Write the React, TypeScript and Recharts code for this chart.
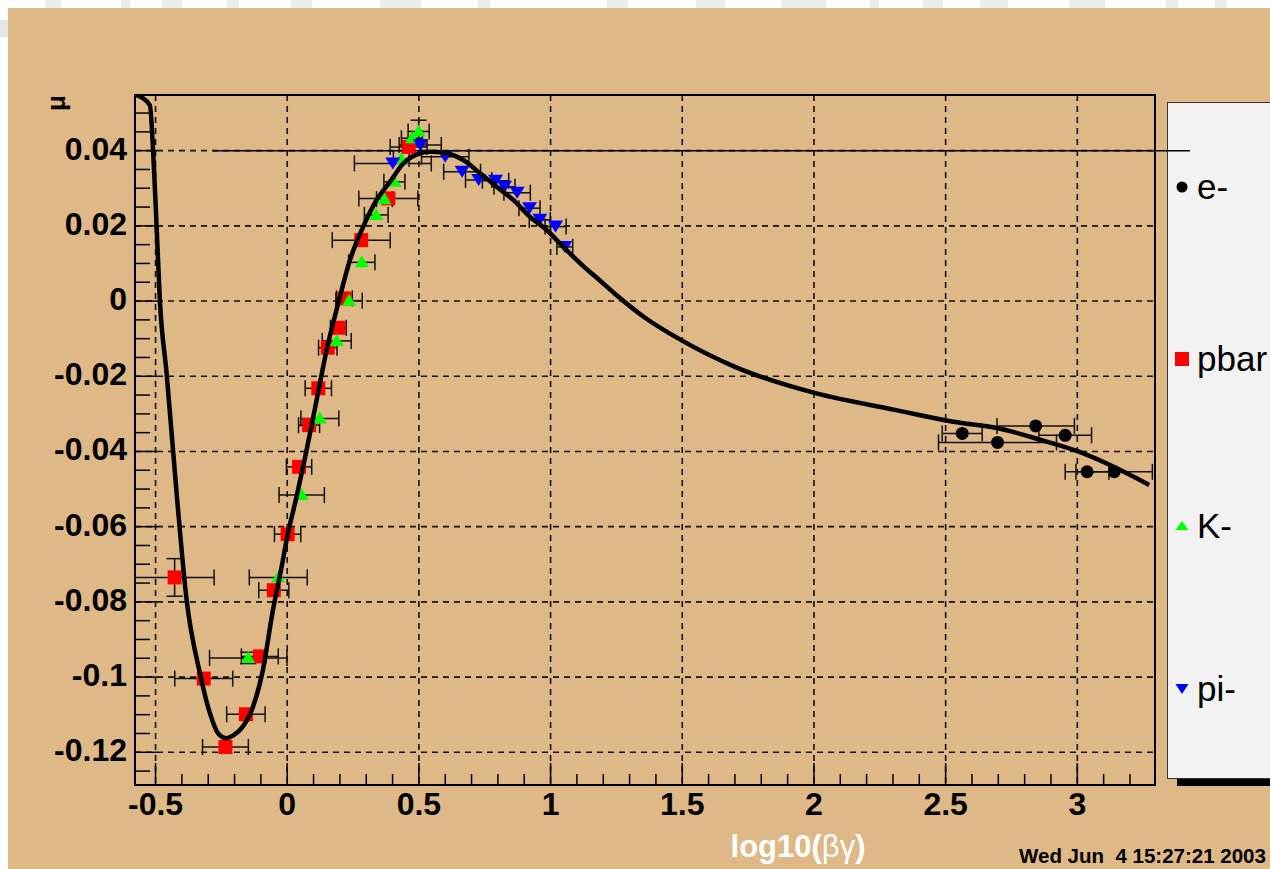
import React from 'react';
import {
  ScatterChart,
  Scatter,
  XAxis,
  YAxis,
  ErrorBar,
  ReferenceLine,
  ReferenceArea,
  CartesianGrid,
  Label,
} from 'recharts';

const FONT = '"Liberation Sans", Arial, Helvetica, sans-serif';
const TAN = '#deb887';

// ---------- axes ----------
const X_DOMAIN: [number, number] = [-0.578, 3.295];
const Y_DOMAIN: [number, number] = [-0.1287, 0.0548];
const X_MAJOR = [-0.5, 0, 0.5, 1, 1.5, 2, 2.5, 3];
const X_MAJOR_LABELS = ['-0.5', '0', '0.5', '1', '1.5', '2', '2.5', '3'];
const Y_MAJOR = [-0.12, -0.1, -0.08, -0.06, -0.04, -0.02, 0, 0.02, 0.04];
const Y_MAJOR_LABELS = ['-0.12', '-0.1', '-0.08', '-0.06', '-0.04', '-0.02', '0', '0.02', '0.04'];
const X_MINOR_STEP = 0.1;
const Y_MINOR_STEP = 0.005;
const X_TITLE = 'log10(';
const X_TITLE_GREEK = 'βγ';
const Y_TITLE = 'μ';
const DATE_TEXT = 'Wed Jun  4 15:27:21 2003';
const LINE_0_04: [number, number, number] = [-0.282, 3.428, 0.04]; // x from, x to, y

// ---------- fitted curve ----------
const curveX = [
  -0.5746, -0.5215, -0.509, -0.496, -0.4835, -0.458, -0.4178, -0.382, -0.3316, -0.2936,
  -0.262, -0.23, -0.205, -0.1796, -0.13, -0.0923, -0.0543, -0.0213, 0, 0.0357, 0.0737,
  0.1117, 0.1496, 0.1937, 0.2381, 0.2886, 0.3395, 0.39, 0.4406, 0.504, 0.542, 0.6054,
  0.6684, 0.7319, 0.7953, 0.8583, 0.9218, 0.9852, 1.0482, 1.124, 1.1786, 1.2484, 1.36, 1.496,
  1.7, 2.006, 2.312, 2.53, 2.704, 2.865, 2.995, 3.112, 3.273,
];
const curveY = [
  0.0548, 0.0521, 0.0397, 0.0199, 0.0001, -0.0192, -0.0529, -0.0795, -0.0989, -0.1096,
  -0.115, -0.1163, -0.1155, -0.1141, -0.1079, -0.0981, -0.0822, -0.0707, -0.0627, -0.052,
  -0.0396, -0.0263, -0.013, -0.0006, 0.0109, 0.0198, 0.0269, 0.0317, 0.0366, 0.0393,
  0.0397, 0.0393, 0.0375, 0.034, 0.0304, 0.0269, 0.0224, 0.0189, 0.0144, 0.0093, 0.006, 0.0017,
  -0.0045, -0.0104, -0.0175, -0.0245, -0.029, -0.0321, -0.0339, -0.037, -0.0398, -0.0432,
  -0.0489,
];

// ---------- e- ----------
const eX = [2.563, 2.697, 2.842, 2.954, 3.037, 3.14];
const eY = [-0.0352, -0.0376, -0.0332, -0.0357, -0.0454, -0.0454];
const eEx = [0.076, 0.224, 0.147, 0.1, 0.083, 0.145];

// ---------- pbar ----------
const pbarX = [-0.4275, -0.317, -0.2345, -0.157, -0.104, -0.051, 0.0015, 0.045, 0.083, 0.118, 0.154, 0.194, 0.217, 0.281, 0.384, 0.461];
const pbarY = [-0.0735, -0.1004, -0.1186, -0.1099, -0.0945, -0.0769, -0.062, -0.0441, -0.033, -0.0232, -0.0124, -0.0071, 0.0007, 0.0162, 0.0273, 0.041];
const pbarEx = [0.15, 0.11, 0.087, 0.073, 0.07, 0.057, 0.05, 0.048, 0.04, 0.05, 0.035, 0.03, 0.03, 0.11, 0.112, 0.07];

// ---------- K- ----------
const kX = [-0.148, -0.034, 0.055, 0.124, 0.188, 0.235, 0.283, 0.338, 0.369, 0.407, 0.433, 0.4735, 0.499];
const kY = [-0.0949, -0.0735, -0.0516, -0.0312, -0.0106, 0.0001, 0.0103, 0.0229, 0.0271, 0.0317, 0.0378, 0.0433, 0.0451];
const kEx = [0.147, 0.11, 0.086, 0.072, 0.055, 0.05, 0.05, 0.045, 0.03, 0.04, 0.03, 0.04, 0.04];

// ---------- pi- ----------
const piX = [0.401, 0.505, 0.6, 0.664, 0.727, 0.791, 0.825, 0.873, 0.92, 0.959, 1.019, 1.054];
const piY = [0.0366, 0.0415, 0.0384, 0.0344, 0.0322, 0.032, 0.0304, 0.0288, 0.0247, 0.0216, 0.0198, 0.0144];
const piEx = [0.146, 0.08, 0.09, 0.07, 0.05, 0.05, 0.04, 0.05, 0.04, 0.04, 0.04, 0.03];

// ---------- vertical errors ----------
const yErrX = [-0.4275, -0.148, 0.499];
const yErrY = [-0.0735, -0.0949, 0.0451];
const yErrEy = [0.005, 0.0015, 0.003];

const LEGEND_LABELS = ['e-', 'pbar', 'K-', 'pi-'];

// ---------- build tables ----------
const zipPts = (xs: number[], ys: number[], es?: number[], key = 'ex') =>
  xs.map((x, i) => ({ x, y: ys[i], ...(es ? { [key]: es[i] } : {}) }));

const curveData = zipPts(curveX, curveY);
const eData = zipPts(eX, eY, eEx);
const pbarData = zipPts(pbarX, pbarY, pbarEx);
const kData = zipPts(kX, kY, kEx);
const piData = zipPts(piX, piY, piEx);
const yErrData = zipPts(yErrX, yErrY, yErrEy, 'ey');

const makeTicks = (lo: number, hi: number, step: number) => {
  const out: number[] = [];
  const n0 = Math.ceil(lo / step - 1e-9);
  const n1 = Math.floor(hi / step + 1e-9);
  for (let n = n0; n <= n1; n++) out.push(Math.round(n * step * 1e6) / 1e6);
  return out;
};
const X_TICKS = makeTicks(X_DOMAIN[0], X_DOMAIN[1], X_MINOR_STEP);
const Y_TICKS = makeTicks(Y_DOMAIN[0], Y_DOMAIN[1], Y_MINOR_STEP);

const findMajor = (arr: number[], v: number) => arr.findIndex((m) => Math.abs(m - v) < 1e-6);

// ---------- shapes ----------
const Square = (p: any) => <rect x={p.cx - 7} y={p.cy - 7} width={14} height={14} fill="#ff0000" />;
const TriUp = (p: any) => (
  <polygon points={`${p.cx},${p.cy - 7} ${p.cx - 7},${p.cy + 5} ${p.cx + 7},${p.cy + 5}`} fill="#00ff00" />
);
const TriDown = (p: any) => (
  <polygon points={`${p.cx - 7.5},${p.cy - 6} ${p.cx + 7.5},${p.cy - 6} ${p.cx},${p.cy + 6}`} fill="#0000ff" />
);
const Dot = (p: any) => <circle cx={p.cx} cy={p.cy} r={6.5} fill="#000" />;
const Nothing = () => <g />;

const XTick = (props: any) => {
  const { x, y, payload } = props;
  const idx = findMajor(X_MAJOR, payload.value);
  const major = idx >= 0;
  return (
    <g>
      <line x1={x} x2={x} y1={y} y2={y - (major ? 22 : 11)} stroke="#000" strokeWidth={1.5} />
      {major && (
        <text x={x} y={y + 30} textAnchor="middle" fontFamily={FONT} fontWeight="bold" fontSize={32} fill="#000">
          {X_MAJOR_LABELS[idx]}
        </text>
      )}
    </g>
  );
};

const YTick = (props: any) => {
  const { x, y, payload } = props;
  const idx = findMajor(Y_MAJOR, payload.value);
  const major = idx >= 0;
  return (
    <g>
      <line x1={x} x2={x + (major ? 22 : 15)} y1={y} y2={y} stroke="#000" strokeWidth={1.5} />
      {major && (
        <text x={x - 8} y={y + 9} textAnchor="end" fontFamily={FONT} fontWeight="bold" fontSize={32} fill="#000">
          {Y_MAJOR_LABELS[idx]}
        </text>
      )}
    </g>
  );
};

const XTitle = (props: any) => {
  const vb = props.viewBox ?? { x: 127, y: 777, width: 1020, height: 84 };
  return (
    <g>
      <text x={vb.x + 663} y={vb.y + 72} textAnchor="middle" fontFamily={FONT} fontSize={31} fill="#fff" fontWeight="bold">
        {X_TITLE}
        <tspan fontWeight="normal">{X_TITLE_GREEK}</tspan>
        {')'}
      </text>
      <text
        x={vb.x + 884}
        y={vb.y + 78}
        fontFamily={FONT}
        fontSize={20.5}
        fontWeight="bold"
        fill="#000"
        style={{ whiteSpace: 'pre' }}
      >
        {DATE_TEXT}
      </text>
    </g>
  );
};

const YTitle = (props: any) => {
  const vb = props.viewBox ?? { x: 0, y: 87, width: 127, height: 690 };
  const cx = vb.x + 48;
  const cy = vb.y + 8;
  return (
    <text
      x={cx}
      y={cy}
      transform={`rotate(-90 ${cx} ${cy})`}
      textAnchor="middle"
      dominantBaseline="central"
      fontFamily={FONT}
      fontWeight="bold"
      fontSize={26}
      fill="#000"
    >
      {Y_TITLE}
    </text>
  );
};

const LegendMarker = ({ i }: { i: number }) => (
  <svg width={20} height={20} style={{ display: 'block' }}>
    {i === 0 && <circle cx={10} cy={10} r={5.5} fill="#000" />}
    {i === 1 && <rect x={3} y={3} width={14} height={14} fill="#ff0000" />}
    {i === 2 && <polygon points="10,5 3.5,14 16.5,14" fill="#00ff00" />}
    {i === 3 && <polygon points="3.5,5 16.5,5 10,15" fill="#0000ff" />}
  </svg>
);

const LEGEND_ROW_CENTERS = [84, 256, 423, 586];

const stripes: [number, number][] = [
  [45, 16], [121, 9], [162, 20], [227, 12], [291, 21], [380, 41], [478, 12], [607, 21],
  [696, 29], [781, 45], [870, 9], [923, 20], [980, 28], [1069, 36], [1166, 12], [1215, 12],
];

export default function App() {
  return (
    <>
      {stripes.map(([x, w], i) => (
        <div key={i} style={{ position: 'fixed', left: x, top: 0, width: w, height: 8, background: '#ececec' }} />
      ))}
      <div style={{ position: 'fixed', left: 0, top: 20, width: 8, height: 17, background: '#e6e6e6' }} />
      <div
        style={{
          position: 'fixed',
          left: 8,
          top: 8,
          width: 1262,
          height: 861,
          background: TAN,
          overflow: 'hidden',
        }}
      >
        {/* legend (below the chart layer) */}
        <div
          style={{
            position: 'absolute',
            left: 1159,
            top: 94,
            width: 150,
            height: 675,
            background: '#f2f2f2',
            border: '1.5px solid #333',
            boxShadow: '10px 7px 0 #000',
            zIndex: 0,
            fontFamily: FONT,
          }}
        >
          {LEGEND_LABELS.map((lab, i) => (
            <div
              key={lab}
              style={{
                position: 'absolute',
                left: 4,
                top: LEGEND_ROW_CENTERS[i] - 21,
                height: 42,
                display: 'flex',
                alignItems: 'center',
              }}
            >
              <LegendMarker i={i} />
              <span style={{ fontSize: 35, marginLeft: 5, color: '#000', lineHeight: '42px' }}>{lab}</span>
            </div>
          ))}
        </div>
        <div style={{ position: 'absolute', left: 0, top: 0, zIndex: 1 }}>
          <ScatterChart width={1262} height={861} margin={{ top: 87, right: 115, bottom: 0, left: 0 }}>
            <CartesianGrid
              horizontalValues={Y_MAJOR}
              verticalValues={X_MAJOR}
              stroke="#111"
              strokeWidth={1.6}
              strokeDasharray="6 5"
              fill="none"
            />
            <XAxis
              type="number"
              dataKey="x"
              domain={X_DOMAIN}
              allowDataOverflow
              ticks={X_TICKS}
              interval={0}
              tickSize={0}
              tickMargin={0}
              tickLine={false}
              axisLine={false}
              tick={<XTick />}
              height={84}
            >
              <Label content={<XTitle />} />
            </XAxis>
            <YAxis
              type="number"
              dataKey="y"
              domain={Y_DOMAIN}
              allowDataOverflow
              ticks={Y_TICKS}
              interval={0}
              tickSize={0}
              tickMargin={0}
              tickLine={false}
              axisLine={false}
              tick={<YTick />}
              width={127}
            >
              <Label content={<YTitle />} />
            </YAxis>
            <ReferenceArea
              x1={X_DOMAIN[0]}
              x2={X_DOMAIN[1]}
              y1={Y_DOMAIN[0]}
              y2={Y_DOMAIN[1]}
              fill="none"
              fillOpacity={0}
              stroke="#000"
              strokeWidth={2}
              ifOverflow="visible"
            />
            <Scatter data={yErrData} shape={<Nothing />} isAnimationActive={false}>
              <ErrorBar dataKey="ey" direction="y" width={8} stroke="#111" strokeWidth={1.5} isAnimationActive={false} />
            </Scatter>
            <Scatter data={eData} shape={<Dot />} isAnimationActive={false}>
              <ErrorBar dataKey="ex" direction="x" width={8} stroke="#111" strokeWidth={1.5} isAnimationActive={false} />
            </Scatter>
            <Scatter data={pbarData} shape={<Square />} isAnimationActive={false}>
              <ErrorBar dataKey="ex" direction="x" width={8} stroke="#111" strokeWidth={1.5} isAnimationActive={false} />
            </Scatter>
            <Scatter data={kData} shape={<TriUp />} isAnimationActive={false}>
              <ErrorBar dataKey="ex" direction="x" width={8} stroke="#111" strokeWidth={1.5} isAnimationActive={false} />
            </Scatter>
            <Scatter data={piData} shape={<TriDown />} isAnimationActive={false}>
              <ErrorBar dataKey="ex" direction="x" width={8} stroke="#111" strokeWidth={1.5} isAnimationActive={false} />
            </Scatter>
            <Scatter
              data={curveData}
              shape={<Nothing />}
              line={{ stroke: '#000', strokeWidth: 4.5 }}
              lineJointType="monotoneX"
              fill="none"
              stroke="#000"
              isAnimationActive={false}
            />
            <ReferenceLine
              segment={[
                { x: LINE_0_04[0], y: LINE_0_04[2] },
                { x: LINE_0_04[1], y: LINE_0_04[2] },
              ]}
              stroke="#000"
              strokeWidth={1.5}
              ifOverflow="visible"
            />
          </ScatterChart>
        </div>
      </div>
    </>
  );
}
